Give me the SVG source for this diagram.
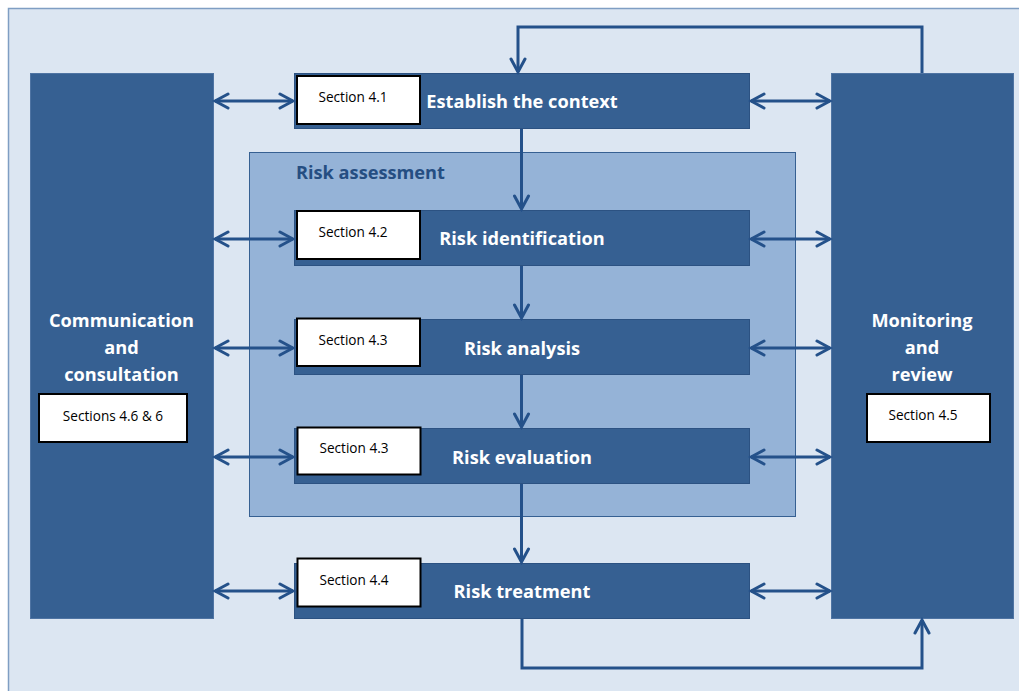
<svg xmlns="http://www.w3.org/2000/svg" width="1019" height="691" viewBox="0 0 1019 691">
<defs>
<marker id="ah" viewBox="0 0 18 18" refX="15" refY="9" markerWidth="18" markerHeight="18" markerUnits="userSpaceOnUse" orient="auto-start-reverse">
<path d="M2,2 L15,9 L2,16" fill="none" stroke="#24518a" stroke-width="3" stroke-linecap="round" stroke-linejoin="miter"/>
</marker>
<style>
.big{fill:#366092;stroke:#4f74a3;stroke-width:1}
.node{fill:#366092;stroke:#2c5282;stroke-width:1}
.sec{fill:#ffffff;stroke:#000000;stroke-width:2}
.title{font-family:"Open Sans","Liberation Sans",sans-serif;font-weight:700;font-size:18.2px;fill:#ffffff;text-anchor:middle}
.st{font-family:"Open Sans","Liberation Sans",sans-serif;font-size:13.6px;fill:#000000;text-anchor:middle}
.c{fill:none;stroke:#24518a;stroke-width:3}
</style>
</defs>
<rect x="8.5" y="8.5" width="1020" height="700" fill="#dce6f2" stroke="#7f9ec3" stroke-width="1.5"/>
<g id="risk-assessment">
<rect x="249.5" y="152.5" width="546" height="364" fill="#95b3d7" stroke="#366092" stroke-width="1"/>
<text x="296" y="179" font-family="Open Sans, Liberation Sans, sans-serif" font-weight="700" font-size="18.2" fill="#254e82">Risk assessment</text>
</g>
<g id="communication">
<rect class="big" x="30.5" y="73.5" width="183" height="545"/>
<text class="title" x="121.5" y="327">Communication</text>
<text class="title" x="121.5" y="354">and</text>
<text class="title" x="121.5" y="381">consultation</text>
<rect class="sec" x="39" y="394" width="148" height="48"/>
<text class="st" x="113" y="421">Sections 4.6 &amp; 6</text>
</g>
<g id="monitoring">
<rect class="big" x="831.5" y="73.5" width="182" height="545"/>
<text class="title" x="922" y="327">Monitoring</text>
<text class="title" x="922" y="354">and</text>
<text class="title" x="922" y="381">review</text>
<rect class="sec" x="867" y="394" width="123" height="48"/>
<text class="st" x="923" y="420">Section 4.5</text>
</g>
<g id="establish">
<rect class="node" x="294.5" y="73.5" width="455" height="55"/>
<rect class="sec" x="297" y="76" width="123" height="48"/>
<text class="st" x="353" y="102">Section 4.1</text>
<text class="title" x="522" y="108">Establish the context</text>
</g>
<g id="identification">
<rect class="node" x="294.5" y="210.5" width="455" height="55"/>
<rect class="sec" x="297" y="211" width="123" height="48"/>
<text class="st" x="353" y="236.5">Section 4.2</text>
<text class="title" x="522" y="245">Risk identification</text>
</g>
<g id="analysis">
<rect class="node" x="294.5" y="319.5" width="455" height="55"/>
<rect class="sec" x="297" y="318.5" width="123" height="47.5"/>
<text class="st" x="353" y="345">Section 4.3</text>
<text class="title" x="522" y="355">Risk analysis</text>
</g>
<g id="evaluation">
<rect class="node" x="294.5" y="428.5" width="455" height="55"/>
<rect class="sec" x="297.5" y="427.5" width="123" height="47"/>
<text class="st" x="354" y="452.5">Section 4.3</text>
<text class="title" x="522" y="464">Risk evaluation</text>
</g>
<g id="treatment">
<rect class="node" x="294.5" y="563.5" width="455" height="55"/>
<rect class="sec" x="297.5" y="558.5" width="123" height="48"/>
<text class="st" x="354" y="585">Section 4.4</text>
<text class="title" x="522" y="598">Risk treatment</text>
</g>
<g id="connectors">
<path class="c" d="M215,101 H293" marker-start="url(#ah)" marker-end="url(#ah)"/>
<path class="c" d="M215,239 H293" marker-start="url(#ah)" marker-end="url(#ah)"/>
<path class="c" d="M215,348 H293" marker-start="url(#ah)" marker-end="url(#ah)"/>
<path class="c" d="M215,457 H293" marker-start="url(#ah)" marker-end="url(#ah)"/>
<path class="c" d="M215,591 H293" marker-start="url(#ah)" marker-end="url(#ah)"/>
<path class="c" d="M751,101 H830" marker-start="url(#ah)" marker-end="url(#ah)"/>
<path class="c" d="M751,239 H830" marker-start="url(#ah)" marker-end="url(#ah)"/>
<path class="c" d="M751,348 H830" marker-start="url(#ah)" marker-end="url(#ah)"/>
<path class="c" d="M751,457 H830" marker-start="url(#ah)" marker-end="url(#ah)"/>
<path class="c" d="M751,591 H830" marker-start="url(#ah)" marker-end="url(#ah)"/>
<path class="c" d="M521.5,129 V209" marker-end="url(#ah)"/>
<path class="c" d="M521.5,266 V318" marker-end="url(#ah)"/>
<path class="c" d="M521.5,375 V427" marker-end="url(#ah)"/>
<path class="c" d="M521.5,484 V562" marker-end="url(#ah)"/>
<path class="c" d="M922,73 V27 H518 V72" marker-end="url(#ah)"/>
<path class="c" d="M522,619 V668 H922 V620" marker-end="url(#ah)"/>
</g>
</svg>
